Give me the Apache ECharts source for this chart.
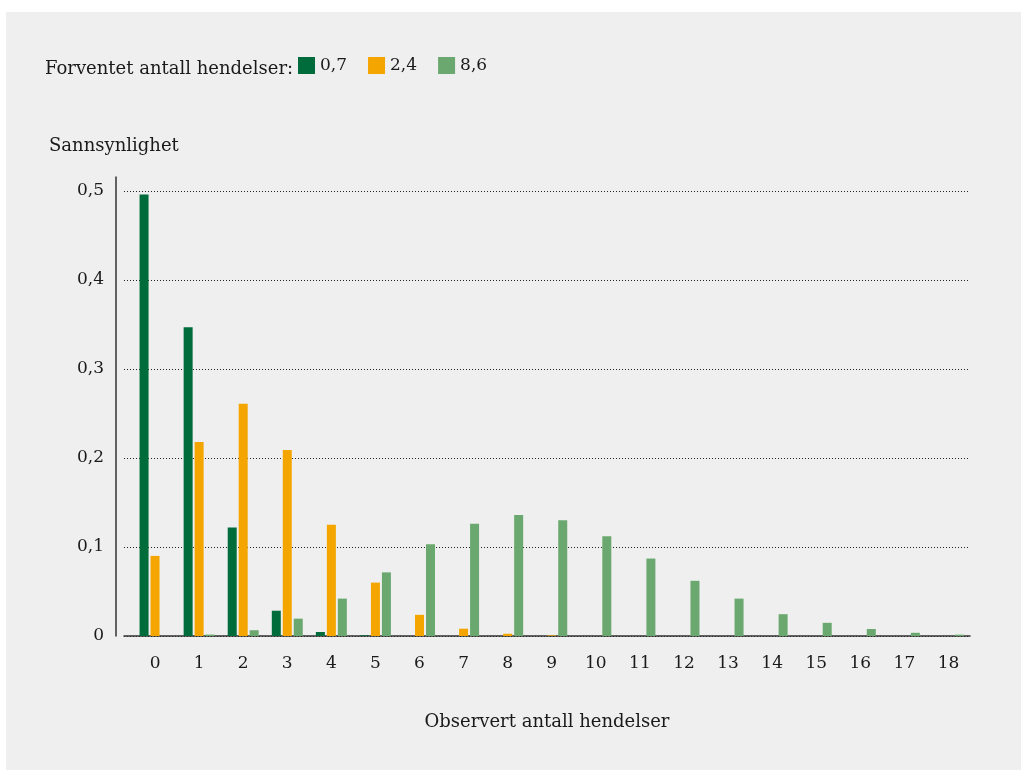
<!DOCTYPE html>
<html>
<head>
<meta charset="utf-8">
<script src="https://cdn.jsdelivr.net/npm/echarts@6/dist/echarts.min.js"></script>
<style>
  html, body { margin: 0; padding: 0; background: #ffffff; }
  #panel { position: absolute; left: 6px; top: 12px; right: 0; bottom: 0; background: #efefef; }
  #chart { position: absolute; left: 0; top: 0; width: 1021px; height: 770px; }
</style>
</head>
<body>
<div id="panel"></div>
<div id="chart"></div>
<script>
const categories = ['0','1','2','3','4','5','6','7','8','9','10','11','12','13','14','15','16','17','18'];
const seriesNames = ['0,7', '2,4', '8,6'];
const lambda07 = [0.496, 0.347, 0.122, 0.0284, 0.0045, 0.0008, 0, 0, 0, 0, 0, 0, 0, 0, 0, 0, 0, 0, 0];
const lambda24 = [0.090, 0.218, 0.261, 0.209, 0.125, 0.060, 0.0238, 0.0082, 0.0025, 0.0007, 0, 0, 0, 0, 0, 0, 0, 0, 0];
const lambda86 = [0, 0.0016, 0.0065, 0.0195, 0.042, 0.0715, 0.103, 0.126, 0.136, 0.130, 0.112, 0.087, 0.062, 0.042, 0.0245, 0.0148, 0.0079, 0.0036, 0.0015];
const yTicks = [0, 0.1, 0.2, 0.3, 0.4, 0.5];
const legendPrefix = 'Forventet antall hendelser:';
const yTitle = 'Sannsynlighet';
const xTitle = 'Observert antall hendelser';

const colors = ['#006b3b', '#f5a500', '#6aa86f'];
const font = 'DejaVu Serif';
const textColor = '#1a1a1a';

const chart = echarts.init(document.getElementById('chart'));
const barCommon = { barWidth: 9, barGap: '22%', xAxisIndex: 1, yAxisIndex: 1 };

chart.setOption({
  backgroundColor: 'transparent',
  animation: false,
  textStyle: { fontFamily: font, color: textColor },
  color: colors,
  title: [
    { text: legendPrefix, left: 40, top: 55, textStyle: { fontFamily: font, fontSize: 18, fontWeight: 'normal', color: textColor } },
    { text: yTitle, left: 44, top: 132, textStyle: { fontFamily: font, fontSize: 18, fontWeight: 'normal', color: textColor } }
  ],
  legend: {
    left: 298, top: 57, padding: 0,
    itemWidth: 17, itemHeight: 17, itemGap: 21,
    icon: 'rect',
    data: seriesNames,
    textStyle: { fontFamily: font, fontSize: 17, color: textColor, padding: [3, 0, 0, 0] }
  },
  grid: [
    { left: 124, right: 51, top: 191, bottom: 134 },
    { left: 133, right: 50.5, top: 191, bottom: 134 },
    { left: 116, width: 1, top: 177, bottom: 134 }
  ],
  xAxis: [
    { gridIndex: 0, type: 'value', min: 0, max: 1,
      axisLine: { show: true, lineStyle: { color: '#333', width: 1.5 } },
      axisTick: { show: false }, axisLabel: { show: false }, splitLine: { show: false },
      name: xTitle, nameLocation: 'middle', nameGap: 77,
      nameTextStyle: { fontFamily: font, fontSize: 18, color: textColor } },
    { gridIndex: 1, type: 'category', data: categories,
      axisLine: { show: false }, axisTick: { show: false },
      axisLabel: { fontFamily: font, fontSize: 17, color: textColor, margin: 19 } },
    { gridIndex: 2, type: 'value', show: false }
  ],
  yAxis: [
    { gridIndex: 0, type: 'value', min: 0, max: 0.5, interval: 0.1,
      axisLine: { show: false }, axisTick: { show: false },
      axisLabel: { fontFamily: font, fontSize: 17, color: textColor, margin: 20,
        formatter: v => (v === 0 ? '0' : v.toFixed(1).replace('.', ',')) },
      splitLine: { show: true, lineStyle: { color: '#222', width: 1, type: [1, 2] } } },
    { gridIndex: 1, type: 'value', min: 0, max: 0.5, show: false },
    { gridIndex: 2, type: 'value', min: 0, max: 1,
      axisLine: { show: true, lineStyle: { color: '#333', width: 1.5 } },
      axisTick: { show: false }, axisLabel: { show: false }, splitLine: { show: false } }
  ],
  series: [
    Object.assign({ type: 'bar', name: seriesNames[0], data: lambda07 }, barCommon),
    Object.assign({ type: 'bar', name: seriesNames[1], data: lambda24 }, barCommon),
    Object.assign({ type: 'bar', name: seriesNames[2], data: lambda86 }, barCommon)
  ]
});
</script>
</body>
</html>
